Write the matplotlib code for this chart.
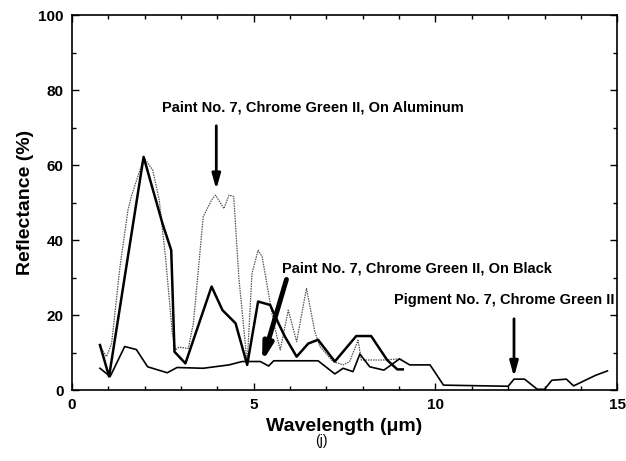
import matplotlib
matplotlib.use('Agg')
import matplotlib.pyplot as plt
from matplotlib.ticker import MultipleLocator

plt.rcParams['font.family'] = ['Liberation Sans', 'DejaVu Sans']

# Paint No. 7 on aluminum (thin grey dotted)
alu_x = [0.77, 0.95, 1.09, 1.32, 1.54, 1.63, 1.98, 2.22, 2.40, 2.58, 2.76, 2.85, 2.94, 3.20,
         3.34, 3.61, 3.84, 3.95, 4.18, 4.32, 4.45, 4.59, 4.82, 4.95, 5.12, 5.23, 5.55, 5.73,
         5.95, 6.18, 6.45, 6.68, 6.82, 7.18, 7.46, 7.64, 7.87, 7.96, 8.55, 9.01, 9.10]
alu_y = [11.6, 8.9, 12.4, 32.9, 48.0, 51.6, 62.0, 58.7, 50.7, 34.7, 15.1, 10.7, 11.4, 11.1,
         17.8, 46.2, 50.7, 52.0, 48.4, 52.0, 51.6, 30.0, 7.1, 31.0, 37.3, 35.6, 17.8, 10.7,
         21.3, 12.9, 27.1, 15.6, 11.6, 7.6, 6.7, 7.6, 13.3, 8.0, 8.0, 8.3, 8.0]

# Paint No. 7 on black (thick)
blk_x = [0.77, 1.02, 1.97, 2.49, 2.73, 2.82, 3.12, 3.84, 4.14, 4.50, 4.82, 5.12, 5.45, 5.68,
         5.86, 6.18, 6.50, 6.77, 7.23, 7.82, 8.23, 8.67, 8.95, 9.10]
blk_y = [12.0, 3.6, 62.2, 44.4, 37.3, 10.2, 7.1, 27.6, 21.3, 17.8, 6.7, 23.6, 22.7, 17.8,
         14.2, 8.9, 12.4, 13.4, 7.6, 14.4, 14.4, 8.0, 5.5, 5.5]

# Pigment No. 7 (medium)
pig_x = [0.77, 1.05, 1.45, 1.77, 2.08, 2.62, 2.89, 3.61, 4.32, 4.68, 5.18, 5.41, 5.55, 6.77,
         7.23, 7.46, 7.73, 7.92, 8.19, 8.58, 9.01, 9.29, 9.85, 10.22, 12.0, 12.16, 12.45,
         12.8, 13.0, 13.2, 13.6, 13.8, 14.4, 14.73]
pig_y = [5.8, 3.6, 11.6, 10.8, 6.2, 4.6, 6.0, 5.8, 6.7, 7.6, 7.6, 6.4, 7.8, 7.8,
         4.3, 5.8, 4.9, 9.6, 6.2, 5.3, 8.3, 6.7, 6.7, 1.3, 1.0, 2.9, 2.9,
         0.2, 0.2, 2.6, 2.9, 1.1, 3.9, 5.1]

labels = ['Paint No. 7, Chrome Green II, On Aluminum',
          'Paint No. 7, Chrome Green II, On Black',
          'Pigment No. 7, Chrome Green II']

fig = plt.figure(figsize=(6.26, 4.61), dpi=100)
ax = fig.add_axes([0.115, 0.154, 0.871, 0.813])

ax.plot(alu_x, alu_y, color='#555555', lw=0.9, ls=(0, (1.2, 0.8)))
ax.plot(blk_x, blk_y, color='black', lw=1.8)
ax.plot(pig_x, pig_y, color='black', lw=1.2)

ax.set_xlim(0, 15)
ax.set_ylim(0, 100)
ax.xaxis.set_major_locator(MultipleLocator(5))
ax.xaxis.set_minor_locator(MultipleLocator(1))
ax.yaxis.set_major_locator(MultipleLocator(20))
ax.yaxis.set_minor_locator(MultipleLocator(10))
ax.tick_params(which='both', direction='in', top=True, right=True, width=1)
ax.tick_params(which='major', length=5, labelsize=11, pad=6)
ax.tick_params(which='minor', length=3)
for lab in ax.get_xticklabels() + ax.get_yticklabels():
    lab.set_fontweight('bold')
for s in ax.spines.values():
    s.set_linewidth(1.2)

ax.set_xlabel('Wavelength (μm)', fontsize=14, fontweight='bold', labelpad=4)
ax.set_ylabel('Reflectance (%)', fontsize=14, fontweight='bold', labelpad=3)

ax.text(2.47, 75.5, labels[0], fontsize=10.5, fontweight='bold', va='center')
ax.annotate('', xy=(3.97, 53.5), xytext=(3.97, 70.5),
            arrowprops=dict(arrowstyle='-|>,head_length=0.9,head_width=0.25', color='black',
                            lw=2, shrinkA=0, shrinkB=0))
ax.text(5.78, 32.5, labels[1], fontsize=10.5, fontweight='bold', va='center')
ax.annotate('', xy=(5.23, 7.5), xytext=(5.9, 29.5),
            arrowprops=dict(arrowstyle='-|>,head_length=1.0,head_width=0.28', color='black',
                            lw=3.5, shrinkA=0, shrinkB=0))
ax.text(8.87, 24, labels[2], fontsize=10.5, fontweight='bold', va='center')
ax.annotate('', xy=(12.16, 3.5), xytext=(12.16, 19),
            arrowprops=dict(arrowstyle='-|>,head_length=0.9,head_width=0.25', color='black',
                            lw=2, shrinkA=0, shrinkB=0))

fig.text(0.513, 0.044, '(j)', fontsize=10, ha='center', va='center')

fig.savefig('out.png', dpi=100)
